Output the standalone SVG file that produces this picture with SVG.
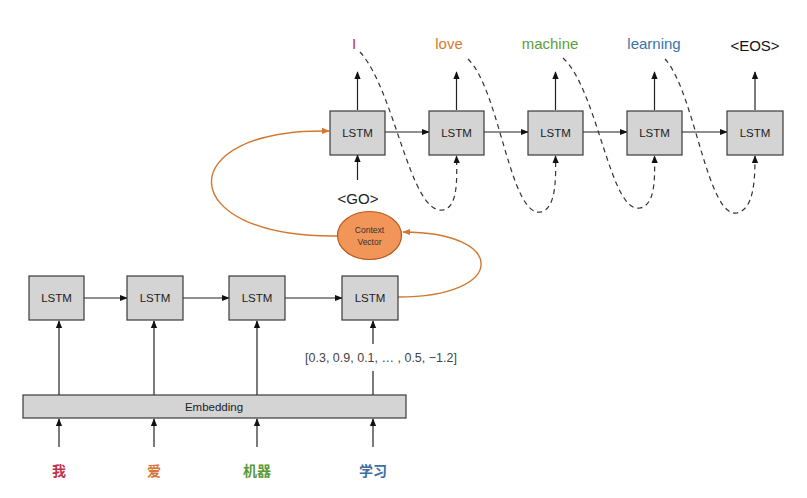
<svg xmlns="http://www.w3.org/2000/svg" width="807" height="498" viewBox="0 0 807 498">
<defs>
<style>
.box{fill:#d4d4d4;stroke:#3a3a3a;stroke-width:1.2}
.bt{font-family:"Liberation Sans",Arial,sans-serif;font-size:11.5px;fill:#222;text-anchor:middle}
.lbl{font-family:"Liberation Sans",Arial,sans-serif;font-size:15px;text-anchor:middle}
.cn{font-family:"Liberation Sans","Noto Sans CJK SC",sans-serif;font-size:14px;font-weight:bold;text-anchor:middle}
.ln{stroke:#222;stroke-width:1.2;fill:none}
.dash{stroke:#333;stroke-width:1.2;fill:none;stroke-dasharray:5,4}
.or{stroke:#d2772f;stroke-width:1.4;fill:none}
</style>
<marker id="ah" viewBox="0 0 10 10" refX="9" refY="5" markerWidth="8" markerHeight="8" markerUnits="userSpaceOnUse" orient="auto"><path d="M0,1 L10,5 L0,9 z" fill="#111"/></marker>
<marker id="ao" viewBox="0 0 10 10" refX="9" refY="5" markerWidth="8" markerHeight="8" markerUnits="userSpaceOnUse" orient="auto"><path d="M0,1 L10,5 L0,9 z" fill="#d2772f"/></marker>
</defs>
<rect width="807" height="498" fill="#fff"/>

<g id="connectors">
<line class="ln" x1="385" y1="132" x2="429" y2="132" marker-end="url(#ah)"/>
<line class="ln" x1="484" y1="132" x2="528" y2="132" marker-end="url(#ah)"/>
<line class="ln" x1="583" y1="132" x2="627" y2="132" marker-end="url(#ah)"/>
<line class="ln" x1="682" y1="132" x2="727" y2="132" marker-end="url(#ah)"/>
<line class="ln" x1="357.5" y1="110" x2="357.5" y2="72" marker-end="url(#ah)"/>
<line class="ln" x1="456.5" y1="110" x2="456.5" y2="72" marker-end="url(#ah)"/>
<line class="ln" x1="555.5" y1="110" x2="555.5" y2="72" marker-end="url(#ah)"/>
<line class="ln" x1="654.5" y1="110" x2="654.5" y2="72" marker-end="url(#ah)"/>
<line class="ln" x1="755" y1="110" x2="755" y2="72" marker-end="url(#ah)"/>
<line class="ln" x1="357.5" y1="180" x2="357.5" y2="155" marker-end="url(#ah)"/>
<path class="dash" d="M360,52 C395,90 410,215 443,210 C458,207 457,180 456.5,156" marker-end="url(#ah)"/>
<path class="dash" d="M468,59 C500,90 510,218 541,212 C556,208 556,180 555.5,156" marker-end="url(#ah)"/>
<path class="dash" d="M563,58 C598,90 610,214 640,208 C655,205 655,180 654.5,156" marker-end="url(#ah)"/>
<path class="dash" d="M665,59 C695,92 707,218 737,213 C754,209 755,180 755,156" marker-end="url(#ah)"/>
<line class="ln" x1="84" y1="298" x2="127" y2="298" marker-end="url(#ah)"/>
<line class="ln" x1="183" y1="298" x2="229" y2="298" marker-end="url(#ah)"/>
<line class="ln" x1="285" y1="298" x2="342" y2="298" marker-end="url(#ah)"/>
<line class="ln" x1="59" y1="395" x2="59" y2="321" marker-end="url(#ah)"/>
<line class="ln" x1="154" y1="395" x2="154" y2="321" marker-end="url(#ah)"/>
<line class="ln" x1="257" y1="395" x2="257" y2="321" marker-end="url(#ah)"/>
<line class="ln" x1="373" y1="395" x2="373" y2="371"/>
<line class="ln" x1="373" y1="344" x2="373" y2="321" marker-end="url(#ah)"/>
<line class="ln" x1="59" y1="447" x2="59" y2="419" marker-end="url(#ah)"/>
<line class="ln" x1="154" y1="447" x2="154" y2="419" marker-end="url(#ah)"/>
<line class="ln" x1="257" y1="447" x2="257" y2="419" marker-end="url(#ah)"/>
<line class="ln" x1="373" y1="447" x2="373" y2="419" marker-end="url(#ah)"/>
<path class="or" d="M337,236 C172,238 170,128 329,131" marker-end="url(#ao)"/>
<path class="or" d="M398,297 C508,297 508,232 403,232" marker-end="url(#ao)"/>
</g>

<g id="dec1"><rect class="box" x="330" y="111" width="55" height="44"/><text class="bt" x="357.5" y="137">LSTM</text></g>
<g id="dec2"><rect class="box" x="429" y="111" width="55" height="44"/><text class="bt" x="456.5" y="137">LSTM</text></g>
<g id="dec3"><rect class="box" x="528" y="111" width="55" height="44"/><text class="bt" x="555.5" y="137">LSTM</text></g>
<g id="dec4"><rect class="box" x="627" y="111" width="55" height="44"/><text class="bt" x="654.5" y="137">LSTM</text></g>
<g id="dec5"><rect class="box" x="727" y="111" width="56" height="44"/><text class="bt" x="755" y="137">LSTM</text></g>

<g id="out-labels">
<text class="lbl" x="354" y="49" fill="#c0334d">I</text>
<text class="lbl" x="449" y="49" fill="#d87a2e">love</text>
<text class="lbl" x="550" y="49" fill="#5e9c3a">machine</text>
<text class="lbl" x="654" y="49" fill="#3a72a8">learning</text>
<text class="lbl" x="755" y="51" fill="#111">&lt;EOS&gt;</text>
</g>
<g id="go"><text class="lbl" x="358" y="204" fill="#222">&lt;GO&gt;</text></g>

<g id="context"><ellipse cx="369.5" cy="235.5" rx="32" ry="24" fill="#f29558" stroke="#b8591c" stroke-width="1.2"/>
<text x="369.5" y="233" font-family="'Liberation Sans',Arial,sans-serif" font-size="8.5" text-anchor="middle" fill="#333">Context</text>
<text x="369.5" y="245" font-family="'Liberation Sans',Arial,sans-serif" font-size="8.5" text-anchor="middle" fill="#333">Vector</text></g>

<g id="enc1"><rect class="box" x="29" y="276" width="55" height="44"/><text class="bt" x="56.5" y="302">LSTM</text></g>
<g id="enc2"><rect class="box" x="127" y="276" width="56" height="44"/><text class="bt" x="155" y="302">LSTM</text></g>
<g id="enc3"><rect class="box" x="229" y="276" width="56" height="44"/><text class="bt" x="257" y="302">LSTM</text></g>
<g id="enc4"><rect class="box" x="342" y="276" width="56" height="44"/><text class="bt" x="370" y="302">LSTM</text></g>

<g id="vec"><text x="381" y="362" font-family="'Liberation Sans',Arial,sans-serif" font-size="12.5" text-anchor="middle" fill="#444">[0.3, 0.9, 0.1, … , 0.5, −1.2]</text></g>

<g id="embedding"><rect class="box" x="23" y="395" width="383" height="23"/><text class="bt" x="214" y="410.5">Embedding</text></g>

<g id="inputs">
<text class="cn" x="59" y="476" fill="#c0334d">我</text>
<text class="cn" x="154" y="476" fill="#d9773a">爱</text>
<text class="cn" x="257" y="476" fill="#5a9a3c">机器</text>
<text class="cn" x="373" y="476" fill="#3b6ea5">学习</text>
</g>
</svg>
